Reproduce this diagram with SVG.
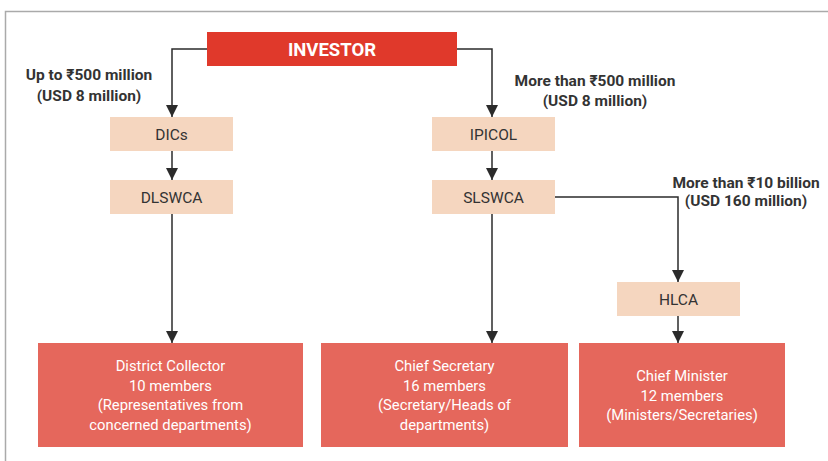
<svg xmlns="http://www.w3.org/2000/svg" width="828" height="461" viewBox="0 0 828 461">
<defs>
<marker id="arr" viewBox="0 0 12 12" refX="12" refY="6" markerWidth="12" markerHeight="12" markerUnits="userSpaceOnUse" orient="auto">
<path d="M0,0 L12,6 L0,12 Z" fill="#2b2b2b"/>
</marker>
<style>
.frame{fill:none;stroke:#aaaaaa;stroke-width:1.5}
.conn{fill:none;stroke:#2b2b2b;stroke-width:1.5}
.top{fill:#e0392b}
.mid{fill:#f5d6bf}
.bot{fill:#e5675c}
.t{font-family:Roboto,"Noto Sans",sans-serif;text-anchor:middle}
.tw{fill:#ffffff;font-size:14.8px}
.tm{fill:#333333;font-size:15.5px}
.lb{fill:#333333;font-size:15.5px;font-weight:bold}
.ti{fill:#ffffff;font-size:18.5px;font-weight:bold}
</style>
</defs>
<rect width="828" height="461" fill="#ffffff"/>
<path class="frame" d="M828,11.5 H5.5 V461"/>
<g id="connectors">
<path class="conn" d="M207,49 H172 V117" marker-end="url(#arr)"/>
<path class="conn" d="M457,49 H492 V117" marker-end="url(#arr)"/>
<path class="conn" d="M172,151 V180" marker-end="url(#arr)"/>
<path class="conn" d="M492,151 V180" marker-end="url(#arr)"/>
<path class="conn" d="M172,213 V343" marker-end="url(#arr)"/>
<path class="conn" d="M492,213 V343" marker-end="url(#arr)"/>
<path class="conn" d="M555,197 H678 V282" marker-end="url(#arr)"/>
<path class="conn" d="M678,316 V343" marker-end="url(#arr)"/>
</g>
<g id="labels">
<text class="t lb" x="89" y="80">Up to ₹500 million</text>
<text class="t lb" x="89" y="101">(USD 8 million)</text>
<text class="t lb" x="595" y="86">More than ₹500 million</text>
<text class="t lb" x="595" y="106">(USD 8 million)</text>
<text class="t lb" x="746" y="188">More than ₹10 billion</text>
<text class="t lb" x="746" y="206">(USD 160 million)</text>
</g>
<g id="investor">
<rect class="top" x="207" y="32" width="250" height="34"/>
<text class="t ti" x="332" y="55.5">INVESTOR</text>
</g>
<g id="dics">
<rect class="mid" x="110" y="117" width="123" height="34"/>
<text class="t tm" x="171.5" y="139.5">DICs</text>
</g>
<g id="ipicol">
<rect class="mid" x="432" y="117" width="123" height="34"/>
<text class="t tm" x="493.5" y="139.5">IPICOL</text>
</g>
<g id="dlswca">
<rect class="mid" x="110" y="180" width="123" height="34"/>
<text class="t tm" x="171.5" y="202.5">DLSWCA</text>
</g>
<g id="slswca">
<rect class="mid" x="432" y="180" width="123" height="34"/>
<text class="t tm" x="493.5" y="202.5">SLSWCA</text>
</g>
<g id="hlca">
<rect class="mid" x="617" y="282" width="123" height="34"/>
<text class="t tm" x="678.5" y="304.5">HLCA</text>
</g>
<g id="district-collector">
<rect class="bot" x="38" y="343" width="265" height="104"/>
<text class="t tw" x="170.5" y="371">District Collector</text>
<text class="t tw" x="170.5" y="391">10 members</text>
<text class="t tw" x="170.5" y="410">(Representatives from</text>
<text class="t tw" x="170.5" y="430">concerned departments)</text>
</g>
<g id="chief-secretary">
<rect class="bot" x="321" y="343" width="247" height="104"/>
<text class="t tw" x="444.5" y="371">Chief Secretary</text>
<text class="t tw" x="444.5" y="391">16 members</text>
<text class="t tw" x="444.5" y="410">(Secretary/Heads of</text>
<text class="t tw" x="444.5" y="430">departments)</text>
</g>
<g id="chief-minister">
<rect class="bot" x="579" y="343" width="206" height="104"/>
<text class="t tw" x="682" y="381">Chief Minister</text>
<text class="t tw" x="682" y="401">12 members</text>
<text class="t tw" x="682" y="420">(Ministers/Secretaries)</text>
</g>
</svg>
